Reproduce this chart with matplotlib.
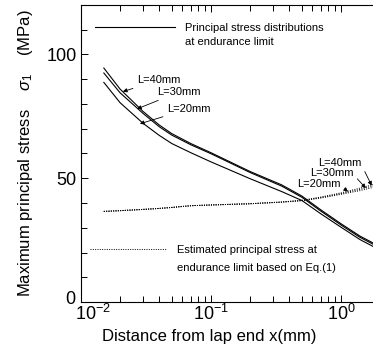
import matplotlib
matplotlib.use('Agg')
import matplotlib.pyplot as plt
import matplotlib.transforms as mtransforms
from matplotlib.lines import Line2D
from matplotlib.ticker import LogLocator, MultipleLocator, NullFormatter

plt.rcParams['font.family'] = ['Liberation Sans', 'DejaVu Sans']
plt.rcParams['mathtext.fontset'] = 'custom'
plt.rcParams['mathtext.rm'] = 'Liberation Sans'
plt.rcParams['mathtext.it'] = 'Liberation Sans:italic'

# distance from lap end x (mm)
x_mm = [0.015, 0.02, 0.03, 0.04, 0.05, 0.07, 0.1, 0.2, 0.35, 0.5, 0.7, 1.0, 1.4, 1.8]

# principal stress distributions at endurance limit (MPa)
s_L40 = [94.5, 86.0, 77.0, 71.5, 68.0, 64.0, 60.3, 52.7, 47.3, 42.8, 37.2, 31.6, 26.6, 23.6]
s_L30 = [92.5, 84.5, 76.2, 70.8, 67.4, 63.5, 59.9, 52.3, 46.8, 42.3, 36.7, 31.1, 26.1, 23.1]
s_L20 = [88.7, 80.5, 72.2, 67.3, 64.0, 60.3, 56.6, 49.8, 44.6, 41.0, 35.6, 30.2, 25.2, 22.2]

# estimated principal stress at endurance limit, Eq.(1) (MPa)
e_L40 = [36.6, 36.9, 37.4, 37.8, 38.2, 38.9, 39.2, 39.7, 40.4, 41.1, 42.4, 44.1, 46.0, 47.6]
e_L30 = [36.6, 36.9, 37.4, 37.8, 38.2, 38.9, 39.2, 39.7, 40.4, 41.0, 42.2, 43.8, 45.5, 47.0]
e_L20 = [36.6, 36.9, 37.4, 37.8, 38.2, 38.9, 39.2, 39.7, 40.3, 40.9, 42.0, 43.5, 45.0, 46.4]

DOT = (0, (1.0, 1.4))

fig = plt.figure(figsize=(3.73, 3.52), dpi=100)
ax = fig.add_axes([0.217, 0.142, 0.783, 0.844])

for s in (s_L40, s_L30, s_L20):
    ax.plot(x_mm, s, color='black', lw=0.8)
for e in (e_L40, e_L30, e_L20):
    ax.plot(x_mm, e, color='black', lw=0.7, linestyle=DOT)

ax.set_xscale('log')
ax.set_xlim(0.01, 1.76)
ax.set_ylim(0, 120)

ax.xaxis.set_major_locator(LogLocator(base=10, numticks=10))
ax.xaxis.set_minor_locator(LogLocator(base=10, subs=range(2, 10), numticks=10))
ax.xaxis.set_minor_formatter(NullFormatter())
ax.yaxis.set_major_locator(MultipleLocator(50))
ax.yaxis.set_minor_locator(MultipleLocator(10))

ax.spines['right'].set_visible(False)
for sp in ax.spines.values():
    sp.set_linewidth(0.8)
ax.tick_params(axis='both', which='both', direction='in', width=0.7)
ax.tick_params(axis='x', which='both', top=True)
ax.tick_params(axis='y', which='both', right=False)
ax.tick_params(which='major', length=5, labelsize=13, pad=3)
ax.tick_params(axis='x', which='major', pad=1)
ax.tick_params(which='minor', length=4)

ax.set_xlabel('Distance from lap end x(mm)', fontsize=12)
ax.xaxis.set_label_coords(0.438, -0.09)
ax.set_ylabel('Maximum principal stress    $\\sigma_1$    (MPa)', fontsize=12,
              labelpad=8)

# keep the 10^-2 label and the "0" label apart at the corner
fig.canvas.draw()
for tick in ax.xaxis.get_major_ticks():
    if abs(tick.get_loc() - 0.01) < 1e-6:
        tick.label1.set_transform(tick.label1.get_transform() +
                                  mtransforms.ScaledTranslation(
                                      9 / 72, 0, fig.dpi_scale_trans))
for tick in ax.yaxis.get_major_ticks():
    if abs(tick.get_loc()) < 1e-6:
        tick.label1.set_transform(tick.label1.get_transform() +
                                  mtransforms.ScaledTranslation(
                                      -1 / 72, 3 / 72, fig.dpi_scale_trans))

# legends
fs = 8
h1 = [Line2D([], [], color='black', lw=0.8),
      Line2D([], [], color='none')]
leg1 = ax.legend(h1, ['Principal stress distributions', 'at endurance limit'],
                 loc='upper left', bbox_to_anchor=(0.048, 0.94),
                 frameon=False, fontsize=fs, handlelength=7.2,
                 handletextpad=0.9, labelspacing=0.35, borderpad=0,
                 borderaxespad=0)
ax.add_artist(leg1)
h2 = [Line2D([], [], color='black', lw=0.7, linestyle=DOT),
      Line2D([], [], color='none')]
ax.legend(h2, ['Estimated principal stress at',
               'endurance limit based on Eq.(1)'],
          loc='upper left', bbox_to_anchor=(0.031, 0.192),
          frameon=False, fontsize=fs, handlelength=6.9,
          handletextpad=0.9, labelspacing=0.75, borderpad=0,
          borderaxespad=0)

arrow = dict(arrowstyle='-|>', color='black', lw=0.6, mutation_scale=6,
             shrinkA=1, shrinkB=0)
# left-hand labels (solid curves)
ax.annotate('L=40mm', xy=(0.021, 85.0), xytext=(0.027, 89.5),
            fontsize=fs, ha='left', va='center', arrowprops=arrow)
ax.annotate('L=30mm', xy=(0.027, 78.0), xytext=(0.0385, 84.8),
            fontsize=fs, ha='left', va='center', arrowprops=arrow)
ax.annotate('L=20mm', xy=(0.0284, 72.0), xytext=(0.0459, 78.0),
            fontsize=fs, ha='left', va='center', arrowprops=arrow)
# right-hand labels (estimated curves)
ax.annotate('L=40mm', xy=(1.72, 47.0), xytext=(0.665, 56.3),
            fontsize=fs, ha='left', va='center',
            arrowprops=dict(arrow, relpos=(1.0, 0.3)))
ax.annotate('L=30mm', xy=(1.55, 46.0), xytext=(0.578, 52.2),
            fontsize=fs, ha='left', va='center',
            arrowprops=dict(arrow, relpos=(1.0, 0.3)))
ax.annotate('L=20mm', xy=(1.13, 44.6), xytext=(0.459, 47.8),
            fontsize=fs, ha='left', va='center',
            arrowprops=dict(arrow, relpos=(1.0, 0.3)))

fig.savefig('out.png', dpi=100)
